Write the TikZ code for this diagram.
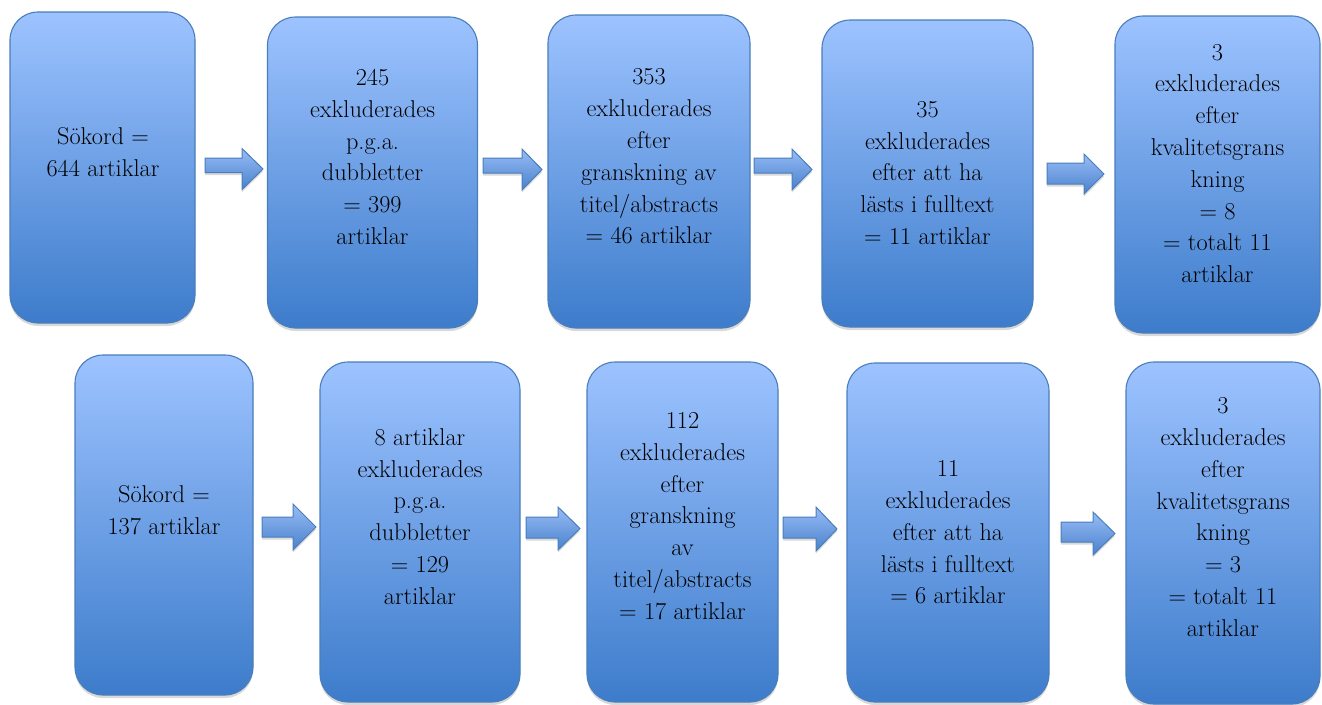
\documentclass[tikz,border=0pt]{standalone}
\usepackage{fontspec}
\usetikzlibrary{shadows,calc}
\definecolor{boxtop}{HTML}{9DC3FF}
\definecolor{boxbot}{HTML}{3D7CCB}
\definecolor{boxline}{HTML}{4A7EBB}
\definecolor{arrtop}{HTML}{97BCF6}
\definecolor{arrbot}{HTML}{4A82CC}
\tikzset{
  stepbox/.style={rectangle, rounded corners=28pt, draw=boxline, line width=1.1pt,
    top color=boxtop, bottom color=boxbot, inner sep=0pt,
    drop shadow={shadow xshift=0pt, shadow yshift=-3pt, opacity=0.25, fill=black!60}},
  boxtext/.style={align=center, font=\rmfamily\fontsize{24.3}{31.8}\selectfont, inner sep=0pt, text=black},
  blockarr/.style={draw=boxline, line width=1pt, line join=miter,
    top color=arrtop, bottom color=arrbot,
    drop shadow={shadow xshift=0pt, shadow yshift=-2.5pt, opacity=0.25, fill=black!60}}
}
% name, x, y-centre, width, height
\newcommand\stepnode[5]{\node[stepbox, minimum width=#4pt, minimum height=#5pt] (#1) at (#2,#3) {};}
% name, tail x, centre y, length, shaft top off, shaft bottom off, head half width, head length
\newcommand\blockarrow[8]{%
  \coordinate (#1) at (#2,#3);
  \path[blockarr] ($(#1)+(0,#5)$) -- ($(#1)+({#4-#8},#5)$) -- ($(#1)+({#4-#8},-#7)$)
    -- ($(#1)+(#4,0)$) -- ($(#1)+({#4-#8},#7)$) -- ($(#1)+({#4-#8},#6)$)
    -- ($(#1)+(0,#6)$) -- cycle;}
\begin{document}
\begin{tikzpicture}[x=1pt,y=-1pt]
\useasboundingbox (0,0) rectangle (1322,704);
% top row boxes
\stepnode{b1}{102.5}{167.5}{185}{311}
\stepnode{b2}{372.5}{172.5}{210}{311}
\stepnode{b3}{649}{171.5}{202}{313}
\stepnode{b4}{927.5}{173.5}{211}{307}
\stepnode{b5}{1217.5}{174.5}{205}{317}
% bottom row boxes
\stepnode{b6}{164}{525}{178}{340}
\stepnode{b7}{420}{532}{200}{340}
\stepnode{b8}{682.5}{532}{191}{340}
\stepnode{b9}{948}{532.5}{202}{339}
\stepnode{b10}{1223}{533}{194}{342}
% texts
\node[boxtext] (t1) at (103,152) {Sökord =\\644 artiklar};
\node[boxtext] (t2) at (372.5,157) {245\\exkluderades\\p.g.a.\\dubbletter\\= 399\\artiklar};
\node[boxtext] (t3) at (649,156.5) {353\\exkluderades\\efter\\granskning av\\titel/abstracts\\= 46 artiklar};
\node[boxtext] (t4) at (927.5,173) {35\\exkluderades\\efter att ha\\lästs i fulltext\\= 11 artiklar};
\node[boxtext] (t5) at (1217.5,163.5) {3\\exkluderades\\efter\\kvalitetsgrans\\kning\\= 8\\= totalt 11\\artiklar};
\node[boxtext] (t6) at (164,510) {Sökord =\\137 artiklar};
\node[boxtext] (t7) at (420,516.5) {8 artiklar\\exkluderades\\p.g.a.\\dubbletter\\= 129\\artiklar};
\node[boxtext] (t8) at (682.5,516) {112\\exkluderades\\efter\\granskning\\av\\titel/abstracts\\= 17 artiklar};
\node[boxtext] (t9) at (948,532.5) {11\\exkluderades\\efter att ha\\lästs i fulltext\\= 6 artiklar};
\node[boxtext] (t10) at (1223,517) {3\\exkluderades\\efter\\kvalitetsgrans\\kning\\= 3\\= totalt 11\\artiklar};
% arrows
\blockarrow{a1}{205}{169}{58}{-11}{3.5}{20.5}{21}
\blockarrow{a2}{483}{169.5}{59}{-11.5}{3.5}{20.5}{20}
\blockarrow{a3}{754}{169.5}{58}{-11.5}{3.5}{20.5}{20}
\blockarrow{a4}{1047}{174}{57}{-11}{10}{20}{20}
\blockarrow{a5}{262}{527}{54}{-10}{10}{23}{23}
\blockarrow{a6}{526}{528.5}{54}{-11.5}{9.5}{21.5}{22}
\blockarrow{a7}{783}{529}{54}{-12}{9}{22}{21}
\blockarrow{a8}{1061}{533.5}{54}{-11.5}{8.5}{21.5}{22}
\end{tikzpicture}
\end{document}
